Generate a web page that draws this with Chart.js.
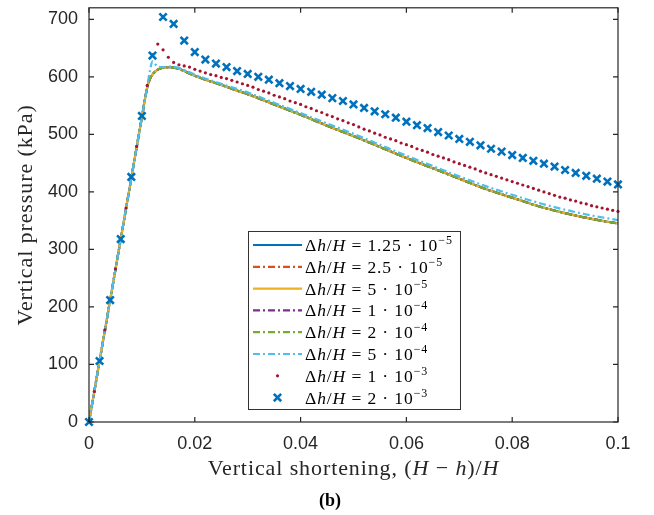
<!DOCTYPE html>
<html>
<head>
<meta charset="utf-8">
<script src="https://cdn.jsdelivr.net/npm/chart.js@4.4.1/dist/chart.umd.min.js"></script>
<style>
  html, body { margin: 0; padding: 0; background: #fff; }
  #wrap { width: 654px; height: 515px; }
</style>
</head>
<body>
<div id="wrap"><canvas id="chart" width="654" height="515"></canvas></div>
<script>
// Values (x = vertical shortening, y = kPa)

// the six small-step runs lie on one curve, sampled here
const fineX = [0, 0.002, 0.004, 0.006, 0.008, 0.010, 0.011, 0.0115, 0.012, 0.0125, 0.013, 0.014,
	0.015, 0.016, 0.017, 0.018, 0.019, 0.020, 0.022, 0.025, 0.028, 0.030, 0.035, 0.040, 0.045,
	0.050, 0.055, 0.060, 0.065, 0.070, 0.075, 0.080, 0.085, 0.090, 0.095, 0.100];
const fineY = [0, 106, 212, 318, 424, 530, 581, 596, 604, 609, 612.5, 616,
	617, 616, 614, 610, 606, 602, 595, 586, 576, 570, 552, 534, 515,
	497, 478, 459, 441, 423, 405, 390, 375, 363, 353, 345];
// the 5e-4 run overshoots a little at the peak and stays slightly above
const fine5e4Y = [0, 106, 212, 318, 424, 530, 583, 610, 627, 622, 618, 617,
	618, 617.5, 615.5, 612, 608, 604, 597, 588, 579, 573, 555, 537, 519,
	501, 482, 463, 445, 427, 410, 395, 381, 369, 359, 351];

// 1e-3 run, one dot per step of 0.001
const step1e3 = 0.001;
const run1e3Y = [0, 53, 106, 160, 213, 266, 319, 372, 426, 479,
	532, 585, 638, 657, 647, 634, 625, 621, 619, 617,
	613, 610, 607, 604, 602, 599, 597, 594, 591, 588,
	585, 582, 578, 575, 572, 568, 565, 562, 558, 555,
	552, 548, 545, 541, 538, 534, 531, 527, 524, 520,
	517, 513, 509, 506, 502, 499, 495, 492, 489, 485,
	482, 479, 475, 472, 469, 465, 462, 459, 456, 452,
	449, 446, 443, 440, 436, 433, 430, 427, 424, 421,
	418, 415, 412, 409, 406, 403, 400, 397, 394, 391,
	389, 386, 384, 381, 379, 376, 374, 372, 370, 368, 366];

// 2e-3 run, one cross per step of 0.002
const step2e3 = 0.002;
const run2e3Y = [0, 106, 212, 318, 426, 532, 637, 704, 692, 663,
	643, 630, 623, 617, 610, 605, 600, 595, 589, 584,
	579, 574, 569, 563, 558, 552, 546, 540, 535, 529,
	522, 516, 511, 504, 498, 492, 487, 481, 475, 470,
	464, 459, 454, 449, 444, 438, 433, 428, 423, 418, 413];

const stepMantissa = ["1.25", "2.5", "5", "1", "2", "5", "1", "2"];
const stepExponent = ["\u22125", "\u22125", "\u22125", "\u22124", "\u22124", "\u22124", "\u22123", "\u22123"];
const xTicks = [0, 0.02, 0.04, 0.06, 0.08, 0.1];
const yTicks = [0, 100, 200, 300, 400, 500, 600, 700];

const COLORS = ["#0072BD", "#D95319", "#EDB120", "#7E2F8E", "#77AC30", "#4DBEEE", "#A2142F", "#0072BD"];
const DASH_DOT = [7, 3, 2, 3];
const LINE_DASH = [[], DASH_DOT, [], DASH_DOT, DASH_DOT, DASH_DOT];
const AXIS_COLOR = "#262626";
const SERIF = "'Liberation Serif', 'DejaVu Serif', serif";
const SANS = "'Liberation Sans', Arial, sans-serif";

const pairs = (xs, ys) => ys.map((y, i) => ({ x: xs[i], y }));
const stepped = (step, ys) => ys.map((y, i) => ({ x: +(i * step).toFixed(4), y }));

const datasets = [];
for (let k = 0; k < 6; k++) {
	datasets.push({
		label: "run " + k,
		data: pairs(fineX, k === 5 ? fine5e4Y : fineY),
		borderColor: COLORS[k],
		borderWidth: 2.2,
		borderDash: LINE_DASH[k],
		pointRadius: 0,
		cubicInterpolationMode: "monotone",
		order: 10 - k,
	});
}
datasets.push({
	label: "run 6",
	data: stepped(step1e3, run1e3Y),
	showLine: false,
	pointStyle: "circle",
	pointRadius: 1.6,
	pointBorderWidth: 0,
	pointBackgroundColor: COLORS[6],
	clip: false,
	order: 2,
});
datasets.push({
	label: "run 7",
	data: stepped(step2e3, run2e3Y),
	showLine: false,
	pointStyle: "crossRot",
	pointRadius: 5.2,
	pointBorderWidth: 2.6,
	pointBorderColor: COLORS[7],
	clip: false,
	order: 1,
});

// rich text: segments of [text, style] where style is "", "i", "sup" or "b"
function richFont(style, size) {
	if (style === "i") return "italic " + size + "px " + SERIF;
	if (style === "b") return "bold " + size + "px " + SERIF;
	if (style === "sup") return Math.round(size * 0.7) + "px " + SERIF;
	return size + "px " + SERIF;
}
function drawRich(ctx, segs, x, y, size, align, spacing) {
	ctx.letterSpacing = (spacing || 0) + "px";
	let width = 0;
	segs.forEach(([t, s]) => { ctx.font = richFont(s, size); width += ctx.measureText(t).width; });
	let cx = align === "center" ? x - width / 2 : x;
	ctx.textBaseline = "alphabetic";
	ctx.textAlign = "left";
	segs.forEach(([t, s]) => {
		ctx.font = richFont(s, size);
		ctx.fillText(t, cx, s === "sup" ? y - size * 0.4 : y);
		cx += ctx.measureText(t).width;
	});
	ctx.letterSpacing = "0px";
}

const framePlugin = {
	id: "frame",
	afterDraw(chart) {
		const { ctx, chartArea: a, scales } = chart;
		ctx.save();
		// box and inward ticks on all four sides
		ctx.strokeStyle = AXIS_COLOR;
		ctx.lineWidth = 1.2;
		ctx.strokeRect(a.left, a.top, a.right - a.left, a.bottom - a.top);
		const TL = 5;
		ctx.beginPath();
		xTicks.forEach((v) => {
			const px = scales.x.getPixelForValue(v);
			ctx.moveTo(px, a.bottom); ctx.lineTo(px, a.bottom - TL);
			ctx.moveTo(px, a.top); ctx.lineTo(px, a.top + TL);
		});
		yTicks.forEach((v) => {
			const py = scales.y.getPixelForValue(v);
			ctx.moveTo(a.left, py); ctx.lineTo(a.left + TL, py);
			ctx.moveTo(a.right, py); ctx.lineTo(a.right - TL, py);
		});
		ctx.stroke();

		// legend box inside the axes
		const box = { left: 248.5, top: 231.5, right: 460.5, bottom: 409.5 };
		ctx.fillStyle = "#fff";
		ctx.fillRect(box.left, box.top, box.right - box.left, box.bottom - box.top);
		ctx.lineWidth = 1;
		ctx.strokeStyle = "#333";
		ctx.strokeRect(box.left, box.top, box.right - box.left, box.bottom - box.top);
		chart.data.datasets.forEach((ds, i) => {
			const ry = 245 + i * 21.8;
			ctx.save();
			if (i < 6) {
				ctx.strokeStyle = ds.borderColor;
				ctx.lineWidth = ds.borderWidth;
				ctx.setLineDash(ds.borderDash);
				ctx.beginPath();
				ctx.moveTo(253, ry); ctx.lineTo(302, ry);
				ctx.stroke();
			} else if (i === 6) {
				ctx.fillStyle = ds.pointBackgroundColor;
				ctx.beginPath();
				ctx.arc(277.5, ry, ds.pointRadius, 0, Math.PI * 2);
				ctx.fill();
			} else {
				ctx.strokeStyle = ds.pointBorderColor;
				ctx.lineWidth = ds.pointBorderWidth;
				const d = ds.pointRadius * Math.SQRT1_2;
				ctx.beginPath();
				ctx.moveTo(277.5 - d, ry - d); ctx.lineTo(277.5 + d, ry + d);
				ctx.moveTo(277.5 - d, ry + d); ctx.lineTo(277.5 + d, ry - d);
				ctx.stroke();
			}
			ctx.restore();
			ctx.fillStyle = "#000";
			drawRich(ctx, [["\u0394", ""], ["h", "i"], ["/", ""], ["H", "i"], [" = ", ""],
				[stepMantissa[i] + " \u00b7 10", ""], [stepExponent[i], "sup"]], 305, ry + 6, 17.5, "left", 0.9);
		});

		// axis titles with math italics, and the panel tag
		ctx.fillStyle = AXIS_COLOR;
		drawRich(ctx, [["Vertical shortening, (", ""], ["H", "i"], [" \u2212 ", ""], ["h", "i"],
			[")/", ""], ["H", "i"]], (a.left + a.right) / 2, 475, 22, "center", 0.9);
		ctx.save();
		ctx.translate(32, (a.top + a.bottom) / 2);
		ctx.rotate(-Math.PI / 2);
		drawRich(ctx, [["Vertical pressure (kPa)", ""]], 0, 0, 22, "center", 0.9);
		ctx.restore();
		ctx.fillStyle = "#000";
		drawRich(ctx, [["(b)", "b"]], 330, 506, 18, "center");
		ctx.restore();
	},
};

const CONFIG = {
	type: "line",
	data: { datasets },
	options: {
		responsive: false,
		animation: false,
		devicePixelRatio: 1,
		layout: { padding: { top: 7, right: 36, left: 0, bottom: 0 } },
		plugins: { legend: { display: false }, tooltip: { enabled: false } },
		scales: {
			x: {
				type: "linear",
				min: 0,
				max: 0.1,
				afterFit: (s) => { s.height = 93; s.paddingLeft = 0; s.paddingRight = 0; },
				afterBuildTicks: (s) => { s.ticks = xTicks.map((v) => ({ value: v })); },
				grid: { display: false, drawTicks: false },
				border: { display: false },
				ticks: {
					padding: 11,
					color: AXIS_COLOR,
					font: { family: SANS, size: 18 },
					callback: (v) => String(+v.toFixed(2)),
					maxRotation: 0,
				},
			},
			y: {
				min: 0,
				max: 720,
				afterFit: (s) => { s.width = 89; s.paddingTop = 0; s.paddingBottom = 0; },
				afterBuildTicks: (s) => { s.ticks = yTicks.map((v) => ({ value: v })); },
				grid: { display: false, drawTicks: false },
				border: { display: false },
				ticks: {
					padding: 11,
					color: AXIS_COLOR,
					font: { family: SANS, size: 18 },
				},
			},
		},
	},
	plugins: [framePlugin],
};

new Chart(document.getElementById("chart"), CONFIG);
</script>
</body>
</html>
